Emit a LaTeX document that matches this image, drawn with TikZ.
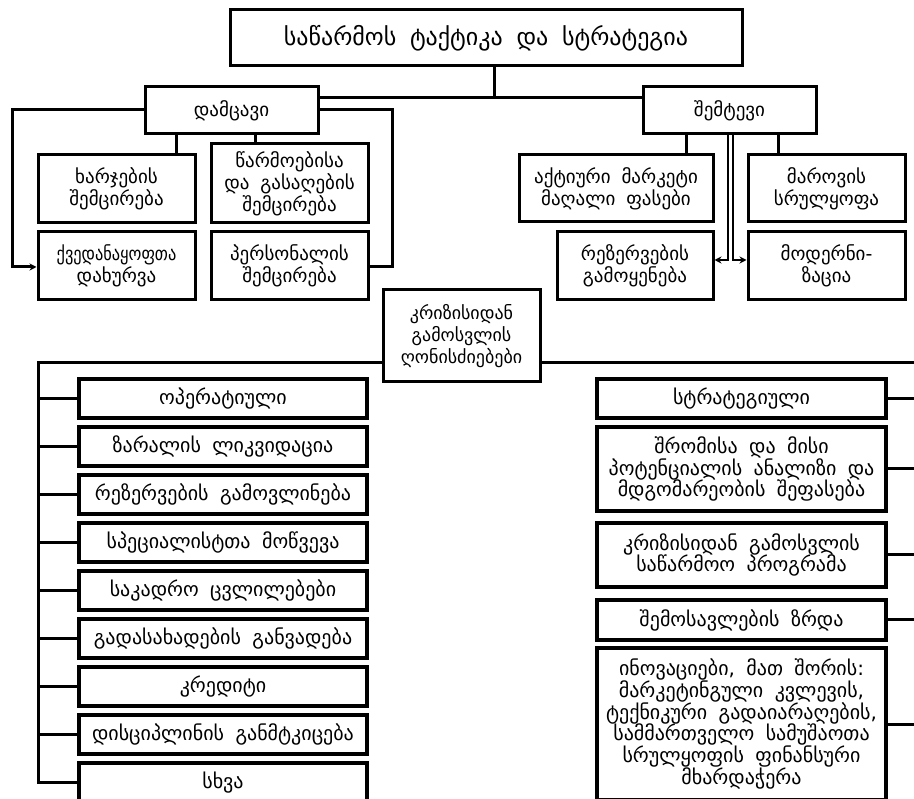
\documentclass[tikz,border=0pt]{standalone}
\usepackage{fontspec}
\setmainfont{DejaVu Sans}[WordSpace=1.8]
\usetikzlibrary{arrows.meta}
\begin{document}
\begin{tikzpicture}[x=1pt,y=-1pt,
  bx/.style={draw, line width=3pt, inner sep=0pt, align=center,
    font=\fontsize{19}{22}\selectfont},
  lbx/.style={bx, line width=3.5pt, font=\fontsize{20}{21.7}\selectfont},
  ln/.style={line width=3pt},
  thn/.style={line width=2pt},
  tip/.style={-{Stealth[length=7pt,width=7pt]}}]
\useasboundingbox (0,0) rectangle (914,799);
\clip (0,0) rectangle (914,799);
% top
\node[bx, minimum width=512pt, minimum height=56pt, font=\fontsize{24}{28}\selectfont] (title) at (486,38) {საწარმოს ტაქტიკა და სტრატეგია};
\node[bx, minimum width=173pt, minimum height=47pt] (def) at (231.5,110.5) {დამცავი};
\node[bx, minimum width=173pt, minimum height=47pt] (att) at (729.5,110.5) {შემტევი};
% left group
\node[bx, minimum width=157pt, minimum height=68pt] (xarj) at (116.5,189) {ხარჯების\\შემცირება};
\node[bx, minimum width=157pt, minimum height=79pt] (warm) at (289.5,183.5) {წარმოებისა\\და გასაღების\\შემცირება};
\node[bx, minimum width=157pt, minimum height=68pt] (qved) at (116.5,266) {\scalebox{0.86}[1]{ქვედანაყოფთა}\\დახურვა};
\node[bx, minimum width=157pt, minimum height=68pt] (pers) at (289.5,266) {პერსონალის\\შემცირება};
% right group
\node[bx, minimum width=194pt, minimum height=67pt] (aqt) at (616,188.5) {აქტიური მარკეტი\\მაღალი ფასები};
\node[bx, minimum width=157pt, minimum height=67pt] (mart) at (826.5,188.5) {მაროვის\\სრულყოფა};
\node[bx, minimum width=156pt, minimum height=68pt] (rez) at (635,266) {რეზერვების\\გამოყენება};
\node[bx, minimum width=157pt, minimum height=68pt] (mod) at (826.5,266) {მოდერნი-\\ზაცია};
% middle
\node[bx, minimum width=157pt, minimum height=92pt, font=\fontsize{18}{22}\selectfont] (krz) at (461.5,336) {კრიზისიდან\\გამოსვლის\\ღონისძიებები};
% left list
\node[lbx, minimum width=288pt, minimum height=39pt] (L1) at (223,398.5) {ოპერატიული};
\node[lbx, minimum width=288pt, minimum height=39pt] (L2) at (223,446.5) {ზარალის ლიკვიდაცია};
\node[lbx, minimum width=288pt, minimum height=39pt] (L3) at (223,494.5) {რეზერვების გამოვლინება};
\node[lbx, minimum width=288pt, minimum height=39pt] (L4) at (223,542.5) {სპეციალისტთა მოწვევა};
\node[lbx, minimum width=288pt, minimum height=39pt] (L5) at (223,590.5) {საკადრო ცვლილებები};
\node[lbx, minimum width=288pt, minimum height=39pt] (L6) at (223,638.5) {გადასახადების განვადება};
\node[lbx, minimum width=288pt, minimum height=39pt] (L7) at (223,686.5) {კრედიტი};
\node[lbx, minimum width=288pt, minimum height=39pt] (L8) at (223,734.5) {დისციპლინის განმტკიცება};
\node[lbx, minimum width=288pt, minimum height=39pt] (L9) at (223,782.5) {სხვა};
% right list
\node[lbx, minimum width=289pt, minimum height=39pt] (R1) at (741.5,398.5) {სტრატეგიული};
\node[lbx, minimum width=289pt, minimum height=84pt] (R2) at (741.5,469) {შრომისა და მისი\\პოტენციალის ანალიზი და\\მდგომარეობის შეფასება};
\node[lbx, minimum width=289pt, minimum height=64pt] (R3) at (741.5,555) {კრიზისიდან გამოსვლის\\საწარმოო პროგრამა};
\node[lbx, minimum width=289pt, minimum height=40pt] (R4) at (741.5,620) {შემოსავლების ზრდა};
\node[lbx, minimum width=289pt, minimum height=152pt] (R5) at (741.5,724) {ინოვაციები, მათ შორის:\\მარკეტინგული კვლევის,\\ტექნიკური გადაიარაღების,\\სამმართველო სამუშაოთა\\სრულყოფის ფინანსური\\მხარდაჭერა};
% helper coordinates
\coordinate (tj) at (494,98);
\coordinate (lt) at (12,110);
\coordinate (lb) at (12,267);
\coordinate (rt) at (392,110);
\coordinate (rb) at (392,267);
\coordinate (v1) at (176,0);
\coordinate (v2) at (255,0);
\coordinate (v3) at (686,0);
\coordinate (v4) at (778,0);
\coordinate (d1) at (728,260);
\coordinate (d2) at (733,260);
\coordinate (ml) at (38,363);
\coordinate (mr) at (918,363);
% connectors top
\draw[ln] (title.south -| tj) -- (tj);
\draw[ln] (def.east |- tj) -- (att.west |- tj);
\draw[ln, tip] (def.west |- lt) -- (lt) -- (lb) -- (qved.west |- lb);
\draw[ln] (def.east |- rt) -- (rt) -- (rb) -- (pers.east |- rb);
\draw[ln] (def.south -| v1) -- (xarj.north -| v1);
\draw[ln] (def.south -| v2) -- (warm.north -| v2);
\draw[ln] (att.south -| v3) -- (aqt.north -| v3);
\draw[ln] (att.south -| v4) -- (mart.north -| v4);
\draw[thn, tip] (att.south -| d1) -- (d1) -- (rez.east |- d1);
\draw[thn, tip] (att.south -| d2) -- (d2) -- (mod.west |- d2);
% connectors middle
\draw[ln] (krz.west |- ml) -- (ml) -- (ml |- L9.west) -- (L9.west);
\foreach \n in {L1,L2,L3,L4,L5,L6,L7,L8}{\draw[ln] (ml |- \n.west) -- (\n.west);}
\draw[ln] (krz.east |- mr) -- (mr);
\foreach \n in {R1,R2,R3,R4,R5}{\draw[ln] (\n.east) -- (\n.east -| mr);}
\end{tikzpicture}
\end{document}
